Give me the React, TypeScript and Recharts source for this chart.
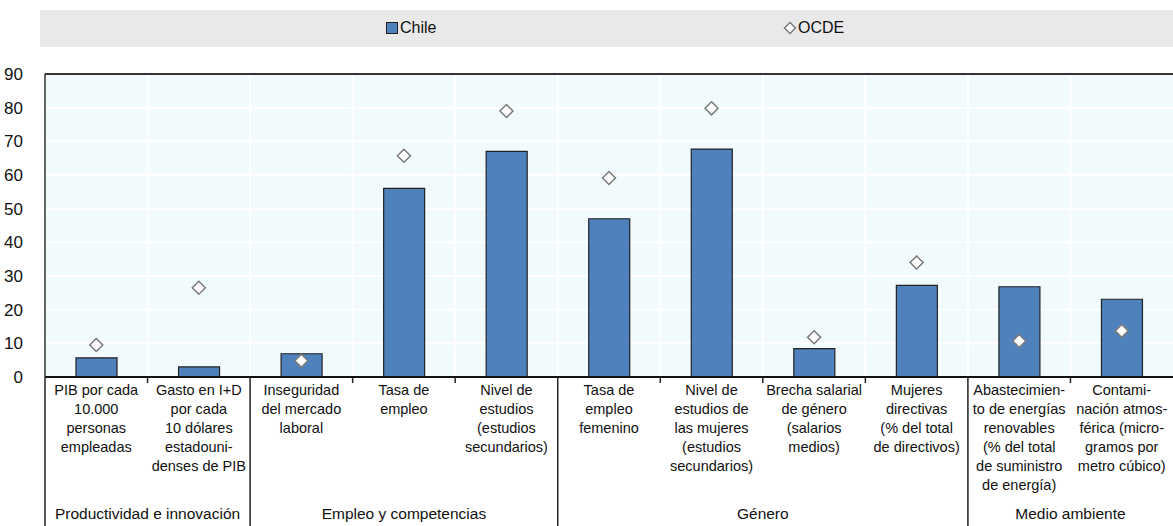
import React from 'react';
import {
  Bar,
  CartesianGrid,
  ComposedChart,
  Legend,
  ReferenceLine,
  Scatter,
  XAxis,
  YAxis,
} from 'recharts';

const CATEGORY_LABELS = [
  'PIB por cada\n10.000\npersonas\nempleadas',
  'Gasto en I+D\npor cada\n10 dólares\nestadouni-\ndenses de PIB',
  'Inseguridad\ndel mercado\nlaboral',
  'Tasa de\nempleo',
  'Nivel de\nestudios\n(estudios\nsecundarios)',
  'Tasa de\nempleo\nfemenino',
  'Nivel de\nestudios de\nlas mujeres\n(estudios\nsecundarios)',
  'Brecha salarial\nde género\n(salarios\nmedios)',
  'Mujeres\ndirectivas\n(% del total\nde directivos)',
  'Abastecimien-\nto de energías\nrenovables\n(% del total\nde suministro\nde energía)',
  'Contami-\nnación atmos-\nférica (micro-\ngramos por\nmetro cúbico)',
];

const GROUP_NAMES = [
  'Productividad e innovación',
  'Empleo y competencias',
  'Género',
  'Medio ambiente',
];

// which group each category belongs to
const CATEGORY_GROUP = [0, 0, 1, 1, 1, 2, 2, 2, 2, 3, 3];

const CHILE = [5.7, 3.0, 6.9, 56, 67, 47, 67.7, 8.4, 27.2, 26.8, 23.1];
const OCDE = [9.5, 26.5, 4.8, 65.7, 79, 59.1, 79.8, 11.8, 34, 10.7, 13.7];

const Y_TICKS = [0, 10, 20, 30, 40, 50, 60, 70, 80, 90];

const data = CATEGORY_LABELS.map((label, i) => ({
  key: `c${i}`,
  chile: CHILE[i],
  ocde: OCDE[i],
}));

const WIDTH = 1173;
const HEIGHT = 526;
const Y_AXIS_W = 45;
const PLOT_W = WIDTH - Y_AXIS_W;
const BAND = PLOT_W / CATEGORY_LABELS.length;

const FONT = "'Liberation Sans', Arial, sans-serif";
const BLUE = '#4f81bd';

function groupSize(g: number) {
  return CATEGORY_GROUP.filter((x) => x === g).length;
}

function CategoryTick(props: any) {
  const { x, y, payload } = props;
  const i = payload.index;
  const left = x - BAND / 2;
  const g = CATEGORY_GROUP[i];
  const groupStart = i === 0 || CATEGORY_GROUP[i - 1] !== g;
  const lines = CATEGORY_LABELS[i].split('\n');

  return (
    <g>
      {groupStart ? (
        <line x1={left} x2={left} y1={y} y2={HEIGHT} stroke="#222" strokeWidth={1.5} />
      ) : (
        <line x1={left} x2={left} y1={y} y2={y + 6} stroke="#222" strokeWidth={1.5} />
      )}
      <text
        x={x}
        y={y + 18}
        textAnchor="middle"
        fontSize={14.5}
        fontFamily={FONT}
        fill="#111"
      >
        {lines.map((line, k) => (
          <tspan key={k} x={x} dy={k === 0 ? 0 : 19}>
            {line}
          </tspan>
        ))}
      </text>
      {groupStart && (
        <text
          x={x + ((groupSize(g) - 1) * BAND) / 2}
          y={y + 142}
          textAnchor="middle"
          fontSize={15.5}
          fontFamily={FONT}
          fill="#111"
        >
          {GROUP_NAMES[g]}
        </text>
      )}
    </g>
  );
}

function Diamond(props: any) {
  const { cx, cy } = props;
  const r = 6.5;
  return (
    <path
      d={`M${cx},${cy - r}L${cx + r},${cy}L${cx},${cy + r}L${cx - r},${cy}Z`}
      fill="#fff"
      stroke="#7a7a7a"
      strokeWidth={1.5}
    />
  );
}

function LegendBox() {
  return (
    <div style={{ height: 64, fontFamily: FONT, fontSize: 16, color: '#111' }}>
      <div style={{ position: 'relative', height: 37, background: '#e9e9e9' }}>
        <div style={{ position: 'absolute', left: 346, top: 9, display: 'flex', alignItems: 'center' }}>
          <span
            style={{
              display: 'inline-block',
              width: 10,
              height: 10,
              background: BLUE,
              border: '1px solid #222',
              marginRight: 2,
            }}
          />
          Chile
        </div>
        <div style={{ position: 'absolute', left: 743, top: 9, display: 'flex', alignItems: 'center' }}>
          <svg width={14} height={14} style={{ marginRight: 1 }}>
            <path d="M7,1.5L12.5,7L7,12.5L1.5,7Z" fill="#fff" stroke="#7a7a7a" strokeWidth={1.5} />
          </svg>
          OCDE
        </div>
      </div>
    </div>
  );
}

export default function App() {
  return (
    <div style={{ position: 'absolute', left: 0, top: 0, background: '#fff' }}>
      <ComposedChart
        width={WIDTH}
        height={HEIGHT}
        data={data}
        margin={{ top: 10, right: 0, left: 0, bottom: 0 }}
      >
        <Legend
          verticalAlign="top"
          width={WIDTH - 40}
          wrapperStyle={{ left: 40 }}
          content={() => <LegendBox />}
        />
        <CartesianGrid
          fill="#f1fbfe"
          stroke="#ffffff"
          strokeWidth={2}
          verticalCoordinatesGenerator={({ offset }: any) =>
            CATEGORY_LABELS.slice(1).map(
              (_, i) => offset.left + ((i + 1) * offset.width) / CATEGORY_LABELS.length
            )
          }
        />
        <XAxis
          dataKey="key"
          height={HEIGHT - 377}
          interval={0}
          tickSize={0}
          tickMargin={0}
          tickLine={false}
          axisLine={{ stroke: '#111', strokeWidth: 2 }}
          tick={<CategoryTick />}
        />
        <YAxis
          width={Y_AXIS_W}
          domain={[0, 90]}
          ticks={Y_TICKS}
          interval={0}
          tickLine={false}
          tickMargin={16}
          axisLine={{ stroke: '#333', strokeWidth: 1.5 }}
          tick={{ fontSize: 17, fontFamily: FONT, fill: '#111' }}
        />
        <ReferenceLine y={90} stroke="#333" strokeWidth={2} />
        <Bar
          dataKey="chile"
          name="Chile"
          fill={BLUE}
          stroke="#222"
          strokeWidth={1.2}
          barSize={41}
          isAnimationActive={false}
        />
        <Scatter
          dataKey="ocde"
          name="OCDE"
          shape={<Diamond />}
          isAnimationActive={false}
        />
      </ComposedChart>
    </div>
  );
}
